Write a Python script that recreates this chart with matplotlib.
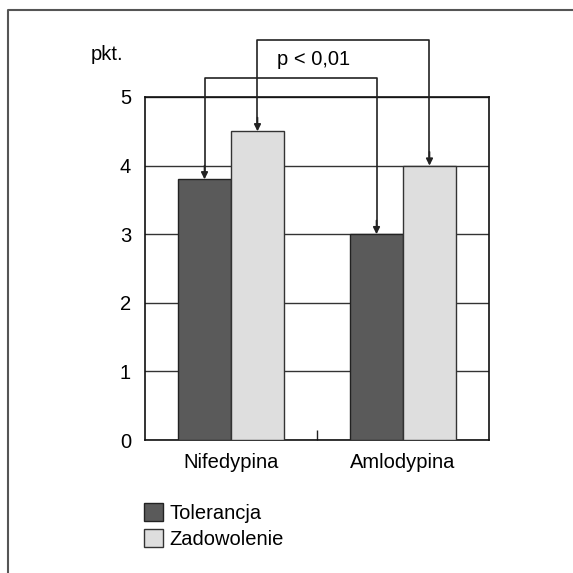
import matplotlib
matplotlib.use("Agg")
import matplotlib.pyplot as plt
from matplotlib.lines import Line2D
from matplotlib.patches import Patch
import numpy as np

categories = ["Nifedypina", "Amlodypina"]
series_names = ["Tolerancja", "Zadowolenie"]
tolerancja = [3.8, 3.0]
zadowolenie = [4.5, 4.0]
y_ticks = [0, 1, 2, 3, 4, 5]
y_label = "pkt."
p_text = "p < 0,01"

plt.rcParams['font.family'] = ['Liberation Sans', 'DejaVu Sans']

dark = "#5a5a5a"
light = "#dedede"

fig = plt.figure(figsize=(5.73, 5.73), dpi=100)
ax = fig.add_axes([145/573, 1-440/573, 344/573, 343/573])

x = np.arange(len(categories))
w = 0.308
ax.bar(x - w/2, tolerancja, w, color=dark, edgecolor="#222222", linewidth=1.0, zorder=3)
ax.bar(x + w/2, zadowolenie, w, color=light, edgecolor="#333333", linewidth=1.0, zorder=3)

ax.set_xlim(-0.5, 1.5)
ax.set_ylim(0, 5)
ax.set_yticks(y_ticks)
ax.set_yticklabels([str(t) for t in y_ticks], fontsize=14.5)
ax.tick_params(axis='y', length=0, pad=10)
ax.set_xticks(x)
ax.set_xticklabels(categories, fontsize=14.5)
ax.tick_params(axis='x', length=0, pad=9)
ax.set_xticks([0.5], minor=True)
ax.tick_params(axis='x', which='minor', direction='in', length=7, width=1, color='#222222')
ax.yaxis.grid(True, color="#333333", linewidth=1.0, zorder=0)
ax.set_axisbelow(True)
for s in ax.spines.values():
    s.set_color("#111111")
    s.set_linewidth(1.2)

# significance brackets
def bracket(x0, y0, x1, y1, top):
    ax.plot([x0, x0, x1, x1], [y0 + 0.12, top, top, y1 + 0.12], color="#222222",
            linewidth=1.2, clip_on=False, zorder=5)
    for xx, yy in [(x0, y0), (x1, y1)]:
        ax.annotate("", xy=(xx, yy), xytext=(xx, yy + 0.2),
                    arrowprops=dict(arrowstyle="-|>", color="#222222", lw=1.2,
                                    mutation_scale=10, shrinkA=0, shrinkB=0),
                    annotation_clip=False, zorder=5)

bracket(x[0] + w/2, zadowolenie[0], x[1] + w/2, zadowolenie[1], 5.83)
bracket(x[0] - w/2, tolerancja[0], x[1] - w/2, tolerancja[1], 5.28)

ax.text(0.265, 5.54, p_text, fontsize=14.5, ha='left', va='center', clip_on=False)
fig.text(107/573, 1-55/573, y_label, fontsize=14.5, ha='center', va='center')

# outer frame
fig.add_artist(Line2D([8/573, 8/573, 1.0], [0.0, 1-10/573, 1-10/573],
                      transform=fig.transFigure, color="#555555", linewidth=1.5))

handles = [Patch(facecolor=dark, edgecolor="#222222", label=series_names[0]),
           Patch(facecolor=light, edgecolor="#333333", label=series_names[1])]
fig.legend(handles=handles, loc='upper left', bbox_to_anchor=(144/573, 1-503/573),
           frameon=False, fontsize=14.5, handlelength=0.95, handleheight=1.0,
           handletextpad=0.3, labelspacing=0.3, borderpad=0, borderaxespad=0)

fig.savefig("out.png", dpi=100)
